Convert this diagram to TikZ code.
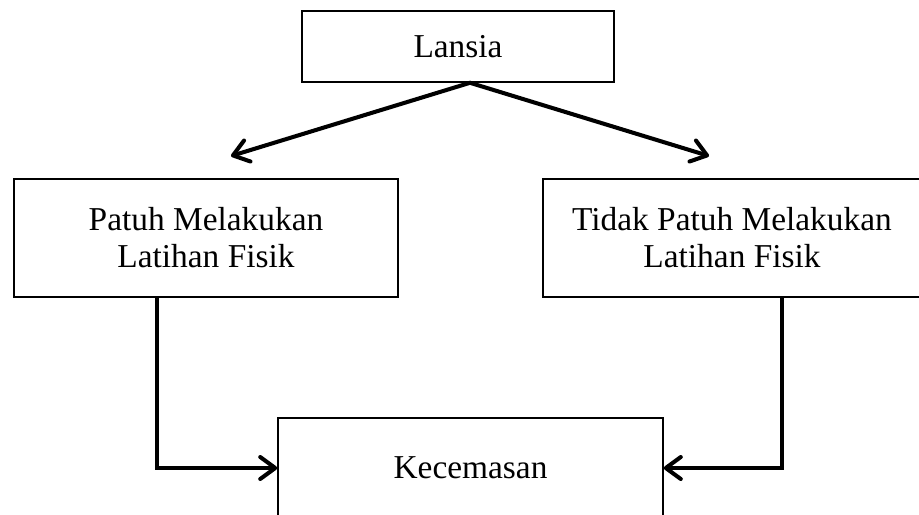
\documentclass[tikz,border=0pt]{standalone}
\usepackage{fontspec}
\setmainfont{Liberation Serif}
\usetikzlibrary{arrows.meta,calc}
\tikzset{
  box/.style={draw=black, line width=0.9pt, align=center, inner sep=0pt, font=\fontsize{19}{21}\selectfont},
  label text/.style={align=center, inner sep=0pt, font=\fontsize{19}{21}\selectfont},
  link/.style={-{Straight Barb[length=0.3cm,width=0.44cm,round]}, line width=2.3pt},
  fork/.style={{Straight Barb[length=0.3cm,width=0.44cm,round]}-{Straight Barb[length=0.3cm,width=0.44cm,round]}, line width=2.3pt}
}
\begin{document}
\begin{tikzpicture}[x=0.02cm, y=-0.02cm]
  \useasboundingbox (0,0) rectangle (919,514);
  \clip (0,0) rectangle (919,514);
  \node[box, minimum width=6.24cm, minimum height=1.42cm] (lansia) at (458,46.5) {Lansia};
  \node[box, minimum width=7.68cm, minimum height=2.36cm] (patuh) at (206,238) {Patuh Melakukan\\Latihan Fisik};
  % right box runs off the page
  \node[box, minimum width=10cm, minimum height=2.36cm, anchor=west] (tidak) at (542,238) {};
  \node[label text] (tidaktxt) at (732,238) {Tidak Patuh Melakukan\\Latihan Fisik};
  \node[box, minimum width=7.7cm, minimum height=2cm] (kec) at (470.5,468) {Kecemasan};
  % split from the top box
  \coordinate (apex) at ([xshift=0.24cm]lansia.south);
  \coordinate (tipL) at (231,156);
  \coordinate (tipR) at (709,156);
  \draw[fork] (tipL) -- (apex) -- (tipR);
  \draw[link] ([xshift=-0.98cm]patuh.south) |- (kec.west);
  \draw[link] (tidak.south west -| 782,0) |- (kec.east);
\end{tikzpicture}
\end{document}
